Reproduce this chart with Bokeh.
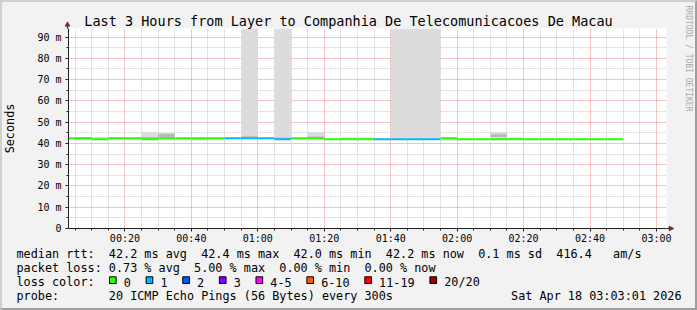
import math
from bokeh.plotting import figure
from bokeh.models import FixedTicker, Range1d, InlineStyleSheet
from bokeh.core.properties import value
from bokeh.embed import file_html
from bokeh.resources import INLINE

NaN = float("nan")

# ---------------- data ----------------
start_min = 3 + 1 / 60          # 00:03:01
end_min = start_min + 180       # 03:03:01

bin_start = list(range(0, 170, 5))   # 5-minute bins, minutes after 00:00
median_ms = [42.4, 42.4, 42.0, 42.4, 42.4, 42.0, 42.4, 42.4, 42.4, 42.4,
             42.4, 42.4, 42.4, 42.0, 42.4, 42.4, 42.0, 42.0, 42.0, 42.0,
             42.0, 42.0, 42.0, 42.4, 42.0, 42.0, 42.0, 42.0, 42.0, 42.0,
             42.0, 42.0, 42.0, 42.0]
loss_count = [0, 0, 0, 0, 0, 0, 0, 0, 0, 0,
              1, 1, 1, 1, 0, 0, 0, 0, 0, 1,
              1, 1, 1, 0, 0, 0, 0, 0, 0, 0,
              0, 0, 0, 0]
smoke_lo = [NaN, 41.7, 42.0, 42.2, 42.2, 42.0, 42.3, 42.2, 41.5, 42.2,
            42.2, 42.4, 42.2, 42.0, 42.2, 42.4, 42.0, 42.0, 42.0, 42.0,
            42.0, 42.0, 42.0, 41.4, NaN, NaN, 42.0, 42.0, NaN, NaN,
            NaN, NaN, NaN, NaN]
smoke_hi = [NaN, 43.0, 43.0, 43.0, 42.7, 45.1, 44.8, 42.7, 42.6, 42.7,
            42.7, 94.0, 42.7, 94.0, 42.7, 45.3, 42.3, 42.9, 42.9, 42.3,
            94.0, 94.0, 94.0, 42.6, NaN, NaN, 45.2, 42.9, NaN, NaN,
            NaN, NaN, NaN, NaN]
core_lo = [NaN, NaN, NaN, NaN, NaN, 42.2, 43.0, NaN, NaN, NaN,
           NaN, 42.6, NaN, 42.2, NaN, 42.6, NaN, NaN, NaN, NaN,
           NaN, NaN, NaN, NaN, NaN, NaN, 43.0, NaN, NaN, NaN,
           NaN, NaN, NaN, NaN]
core_hi = [NaN, NaN, NaN, NaN, NaN, 43.0, 44.5, NaN, NaN, NaN,
           NaN, 43.4, NaN, 42.8, NaN, 43.2, NaN, NaN, NaN, NaN,
           NaN, NaN, NaN, NaN, NaN, NaN, 44.3, NaN, NaN, NaN,
           NaN, NaN, NaN, NaN]

x_major = [20, 40, 60, 80, 100, 120, 140, 160, 180]
x_labels = ["00:20", "00:40", "01:00", "01:20", "01:40", "02:00", "02:20", "02:40", "03:00"]
x_minor = [m for m in range(5, 185, 5) if m % 20 != 0]
y_major = [0, 10, 20, 30, 40, 50, 60, 70, 80, 90]
y_labels = ["0", "10 m", "20 m", "30 m", "40 m", "50 m", "60 m", "70 m", "80 m", "90 m"]
y_minor = [v for v in range(5, 95, 5) if v % 10 != 0]

loss_labels = ["0", "1", "2", "3", "4-5", "6-10", "11-19", "20/20"]
loss_colors = ["#26ff00", "#00b8ff", "#0059ff", "#7e00ff", "#ff00ff", "#ff5500", "#ff0000", "#a10000"]

title_text = "Last 3 Hours from Layer to Companhia De Telecomunicacoes De Macau"
legend_rows = [
    "median rtt:  42.2 ms avg  42.4 ms max  42.0 ms min  42.2 ms now  0.1 ms sd  416.4   am/s",
    "packet loss: 0.73 % avg  5.00 % max  0.00 % min  0.00 % now",
    "loss color:",
    "probe:       20 ICMP Echo Pings (56 Bytes) every 300s",
]
row_date = "Sat Apr 18 03:03:01 2026"
watermark = "RRDTOOL / TOBI OETIKER"
y_title = "Seconds"


def loss_index(n):
    if n <= 3:
        return n
    if n <= 5:
        return 4
    if n <= 10:
        return 5
    if n <= 19:
        return 6
    return 7


def keep_spaces(s):
    # SVG collapses runs of spaces; a no-break space keeps the monospace columns
    return s.replace(" ", "\u00a0")


# ---------------- layout constants (pixels) ----------------
W, H = 697, 310
FL, FT, FR, FB = 67, 28, 666, 228     # plot area edges on the canvas
MONO = "DejaVu Sans Mono"
BG = "#f2f2f2"
TY = -4                               # baseline correction for svg text

# ---------------- chart figure ----------------
p = figure(width=W, height=H, x_range=Range1d(start_min, end_min), y_range=Range1d(0, 94),
           output_backend="svg", toolbar_location=None,
           min_border_left=FL, min_border_right=W - FR, min_border_top=FT, min_border_bottom=H - FB,
           background_fill_color="#ffffff", border_fill_color=BG, outline_line_color=None)

p.xaxis.ticker = FixedTicker(ticks=x_major, minor_ticks=x_minor)
p.yaxis.ticker = FixedTicker(ticks=y_major, minor_ticks=y_minor)
p.xaxis.major_label_overrides = {k: v for k, v in zip(x_major, x_labels)}
p.yaxis.major_label_overrides = {k: v for k, v in zip(y_major, y_labels)}

for ax in (p.xaxis, p.yaxis):
    ax.axis_line_color = "#1f1f1f"
    ax.major_tick_line_color = "#1f1f1f"
    ax.minor_tick_line_color = "#1f1f1f"
    ax.major_tick_in = 0
    ax.major_tick_out = 3
    ax.minor_tick_in = 0
    ax.minor_tick_out = 2
    ax.major_label_text_font = MONO
    ax.major_label_text_font_size = "10px"
    ax.major_label_text_color = "#000000"
p.xaxis.major_label_standoff = 1
p.yaxis.major_label_standoff = 4
p.yaxis.axis_label = y_title
p.yaxis.axis_label_text_font = MONO
p.yaxis.axis_label_text_font_size = "11.8px"
p.yaxis.axis_label_text_font_style = "normal"
p.yaxis.axis_label_text_color = "#000000"
p.yaxis.axis_label_standoff = 17

for g in (p.xgrid, p.ygrid):
    g.grid_line_color = "#de4f4f"
    g.grid_line_alpha = 0.65
    g.grid_line_dash = "1 1"
    g.minor_grid_line_color = "#8f8f8f"
    g.minor_grid_line_alpha = 0.5
    g.minor_grid_line_dash = "1 1"


# smoke
def bars(lo, hi):
    L, R, B, T = [], [], [], []
    for s, a, b in zip(bin_start, lo, hi):
        if not (math.isnan(a) or math.isnan(b)):
            L.append(s); R.append(s + 5); B.append(a); T.append(b)
    return L, R, B, T


L, R, B, T = bars(smoke_lo, smoke_hi)
p.quad(left=L, right=R, bottom=B, top=T, fill_color="#dcdcdc", line_color=None)
L, R, B, T = bars(core_lo, core_hi)
p.quad(left=L, right=R, bottom=B, top=T, fill_color="#b8b8b8", line_color=None)

# median line coloured by packet loss
seg_col = [loss_colors[loss_index(n)] for n in loss_count]
p.segment(x0=bin_start, x1=[s + 5 for s in bin_start], y0=median_ms, y1=median_ms,
          line_color=seg_col, line_width=2)

# ---------------- overlay figure (separate root) for texts outside the plot area ----------------
o = figure(width=W, height=H, x_range=Range1d(0, W), y_range=Range1d(H, 0),
           output_backend="svg", toolbar_location=None, x_axis_type=None, y_axis_type=None,
           min_border=0, min_border_left=0, min_border_right=0, min_border_top=0, min_border_bottom=0,
           background_fill_alpha=0, border_fill_alpha=0, outline_line_color=None)
o.xgrid.visible = False
o.ygrid.visible = False

# axis arrows
o.segment(x0=[FL, FR], y0=[FT, FB], x1=[FL, FR + 4], y1=[FT - 4, FB], line_color="#1f1f1f", line_width=1)
o.patches(xs=[[FL - 2.5, FL + 2.5, FL], [FR + 2.5, FR + 2.5, FR + 7.5]],
          ys=[[FT - 2.3, FT - 2.3, FT - 6.8], [FB - 2.5, FB + 2.5, FB]],
          fill_color="#801f1f", line_color="#801f1f", line_width=0.5)

# title
o.text(x=[348], y=[24 + TY], text=[keep_spaces(title_text)], text_font=value(MONO),
       text_font_size="13.5px", text_align="center", text_baseline="alphabetic", text_color="#000000")

# legend rows
row_y = [257.5 + 14 * i for i in range(len(legend_rows))]
o.text(x=[16] * len(legend_rows), y=[v + TY for v in row_y], text=[keep_spaces(r) for r in legend_rows],
       text_font=value(MONO), text_font_size="11.8px", text_align="left",
       text_baseline="alphabetic", text_color="#000000")
o.text(x=[681], y=[row_y[3] + TY], text=[keep_spaces(row_date)], text_font=value(MONO),
       text_font_size="11.8px", text_align="right", text_baseline="alphabetic", text_color="#000000")

# loss colour swatches
sx, tx = [], []
x = 123.3
for lab in loss_labels:
    tx.append(x)
    sx.append(x - 14.3)
    x += len(lab) * 7.12 + 29.5
o.quad(left=sx, right=[v + 6.7 for v in sx], top=[row_y[2] - 9.2] * len(sx),
       bottom=[row_y[2] - 2.5] * len(sx), fill_color=loss_colors, line_color="#000000", line_width=1)
o.text(x=tx, y=[row_y[2] + TY] * len(tx), text=loss_labels, text_font=value(MONO),
       text_font_size="11.8px", text_align="left", text_baseline="alphabetic", text_color="#000000")

# watermark
o.text(x=[688], y=[5], text=[keep_spaces(watermark)], text_font=value(MONO), text_font_size="8px",
       text_align="left", text_baseline="middle", text_color="#a8a8a8", angle=-math.pi / 2)

o.styles = {"margin-top": "-%dpx" % H}
o.stylesheets = [InlineStyleSheet(css=(
    ":host{position:relative;margin-top:-%dpx !important;}"
    ":host::after{content:'';position:absolute;left:0;top:0;width:%dpx;height:%dpx;"
    "box-sizing:border-box;border-style:solid;border-width:2px;"
    "border-color:#cfcfcf #9e9e9e #9e9e9e #cfcfcf;pointer-events:none;z-index:10;}" % (H, W, H)))]

open("out.html", "w").write(file_html([p, o], INLINE))
